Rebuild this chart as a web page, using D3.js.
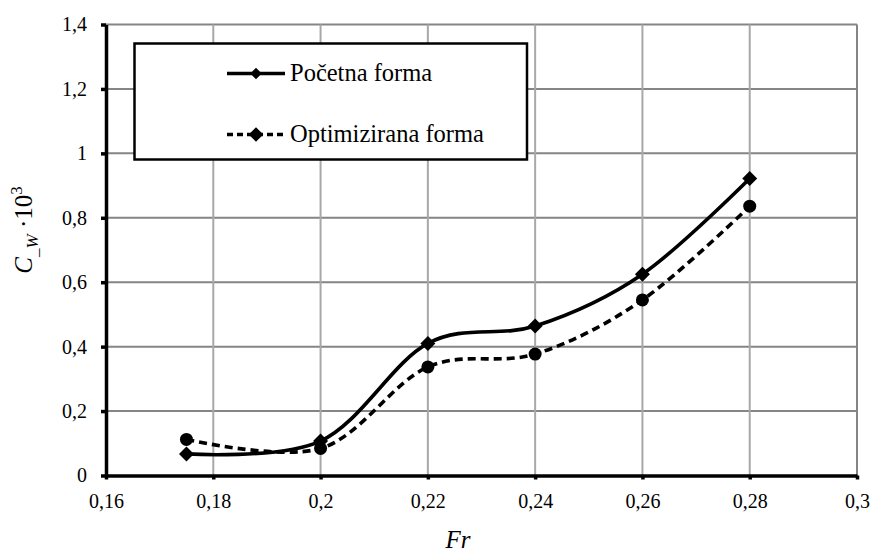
<!DOCTYPE html>
<html><head><meta charset="utf-8">
<script src="https://cdn.jsdelivr.net/npm/d3@7"></script>
</head><body style="margin:0;background:#fff">
<script>
const frValues = [0.175, 0.2, 0.22, 0.24, 0.26, 0.28];
const pocetna = [0.067, 0.107, 0.41, 0.464, 0.625, 0.922];
const optimizirana = [0.112, 0.084, 0.337, 0.377, 0.545, 0.836];
const seriesNames = ["Početna forma", "Optimizirana forma"];
const xTicks = [0.16, 0.18, 0.2, 0.22, 0.24, 0.26, 0.28, 0.3];
const yTicks = [0, 0.2, 0.4, 0.6, 0.8, 1, 1.2, 1.4];

const FONT = '"Liberation Serif", "Times New Roman", Tinos, serif';
const W = 870, H = 554;
const svg = d3.select("body").append("svg").attr("width", W).attr("height", H).style("display", "block");
const x = d3.scaleLinear().domain([0.16, 0.3]).range([106, 857]);
const y = d3.scaleLinear().domain([0, 1.4]).range([475.5, 24.5]);
const fmt = v => String(+v.toFixed(2)).replace(".", ",");

// grid
svg.append("g").selectAll("line").data(yTicks.slice(1)).join("line")
  .attr("x1", x(0.16)).attr("x2", x(0.3)).attr("y1", d => y(d)).attr("y2", d => y(d))
  .attr("stroke", "#858585").attr("stroke-width", 2);
svg.append("g").selectAll("line").data(xTicks.slice(1)).join("line")
  .attr("x1", d => x(d)).attr("x2", d => x(d)).attr("y1", y(0)).attr("y2", y(1.4))
  .attr("stroke", d => d === 0.3 ? "#858585" : "#a8a8a8").attr("stroke-width", 2);

// axes
const xAxis = d3.axisBottom(x).tickValues(xTicks).tickFormat(fmt).tickSizeInner(4).tickSizeOuter(0).tickPadding(14);
const gx = svg.append("g").attr("transform", `translate(0,${y(0)})`).call(xAxis);
gx.select(".domain").attr("stroke", "#000").attr("stroke-width", 3.5);
gx.selectAll(".tick line").attr("stroke", "#000").attr("stroke-width", 3.5);
gx.selectAll(".tick text").attr("font-size", 20).style("font-family", FONT).attr("fill", "#000");

const yAxis = d3.axisLeft(y).tickValues(yTicks).tickFormat(fmt).tickSizeInner(5).tickSizeOuter(0).tickPadding(14);
const gy = svg.append("g").attr("transform", `translate(${x(0.16)},0)`).call(yAxis);
gy.select(".domain").attr("stroke", "#000").attr("stroke-width", 3.5);
gy.selectAll(".tick line").attr("stroke", "#000").attr("stroke-width", 3.5);
gy.selectAll(".tick text").attr("font-size", 20).style("font-family", FONT).attr("fill", "#000");

// lines
const line = d3.line().x(d => x(d[0])).y(d => y(d[1])).curve(d3.curveCardinal.tension(0));
const d1 = frValues.map((f, i) => [f, pocetna[i]]);
const d2 = frValues.map((f, i) => [f, optimizirana[i]]);
svg.append("path").attr("d", line(d1)).attr("fill", "none").attr("stroke", "#000").attr("stroke-width", 3.6);
svg.append("path").attr("d", line(d2)).attr("fill", "none").attr("stroke", "#000").attr("stroke-width", 3.6).attr("stroke-dasharray", "8,5");

const rhomb = d3.symbol().type(d3.symbolSquare).size(112);
svg.append("g").selectAll("path").data(d1).join("path")
  .attr("d", rhomb).attr("transform", d => `translate(${x(d[0])},${y(d[1])}) rotate(45)`).attr("fill", "#000");
svg.append("g").selectAll("circle").data(d2).join("circle")
  .attr("cx", d => x(d[0])).attr("cy", d => y(d[1])).attr("r", 6.5).attr("fill", "#000");

// legend
const lg = svg.append("g");
lg.append("rect").attr("x", 134.5).attr("y", 43.5).attr("width", 392.5).attr("height", 116)
  .attr("fill", "#fff").attr("stroke", "#000").attr("stroke-width", 2.5);
const rows = [73.5, 134.5];
rows.forEach((ry, i) => {
  lg.append("line").attr("x1", 227).attr("x2", 285).attr("y1", ry).attr("y2", ry)
    .attr("stroke", "#000").attr("stroke-width", 3.6).attr("stroke-dasharray", i ? "6,4" : null);
  lg.append("path").attr("d", d3.symbol().type(d3.symbolSquare).size(i ? 105 : 65))
    .attr("transform", `translate(256,${ry}) rotate(45)`).attr("fill", "#000");
  lg.append("text").attr("x", 290).attr("y", ry + 7.5).attr("font-size", 24.5)
    .style("font-family", FONT).text(seriesNames[i]);
});

// axis titles
svg.append("text").attr("x", 458).attr("y", 548).attr("text-anchor", "middle")
  .attr("font-size", 25).attr("font-style", "italic").style("font-family", FONT).text("Fr");
const yt = svg.append("text").attr("transform", "translate(32,230) rotate(-90)")
  .attr("text-anchor", "middle").attr("font-size", 25).style("font-family", FONT);
yt.append("tspan").attr("font-style", "italic").text("C");
yt.append("tspan").attr("font-style", "italic").attr("font-size", 17).attr("dy", 6).text("_W");
yt.append("tspan").attr("dy", -6).text(" ·10");
yt.append("tspan").attr("font-size", 17).attr("dy", -10).text("3");
</script>
</body></html>
